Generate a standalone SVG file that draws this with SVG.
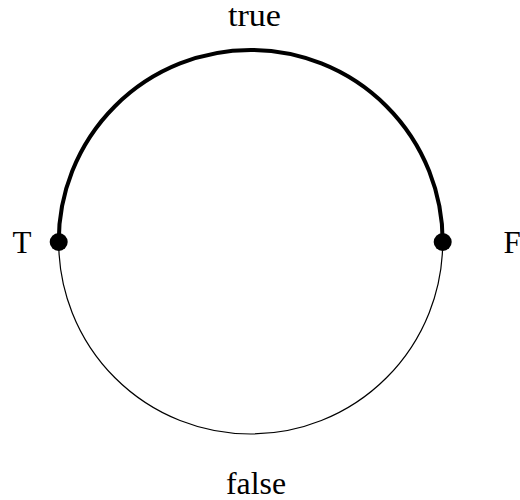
<svg xmlns="http://www.w3.org/2000/svg" width="520" height="500" viewBox="0 0 520 500">
<style>
text{font-family:"Liberation Serif","DejaVu Serif",serif;font-size:31px;fill:#000;text-anchor:middle}
.thick{fill:none;stroke:#000;stroke-width:4}
.thin{fill:none;stroke:#000;stroke-width:1.2}
</style>
<rect width="520" height="500" fill="#fff"/>
<g id="connectors">
<path class="thick" d="M58.7,242 A192,192 0 0 1 442.7,242"/>
<path class="thin" d="M58.7,242 A192,192 0 0 0 442.7,242"/>
</g>
<g id="nodeT">
<circle cx="58.7" cy="242" r="9"/>
<text x="22" y="253">T</text>
</g>
<g id="nodeF">
<circle cx="442.7" cy="242" r="9"/>
<text x="512" y="253">F</text>
</g>
<g id="labelTrue"><text x="254.5" y="26" textLength="53" lengthAdjust="spacingAndGlyphs">true</text></g>
<g id="labelFalse"><text x="256" y="494" textLength="60" lengthAdjust="spacingAndGlyphs">false</text></g>
</svg>
